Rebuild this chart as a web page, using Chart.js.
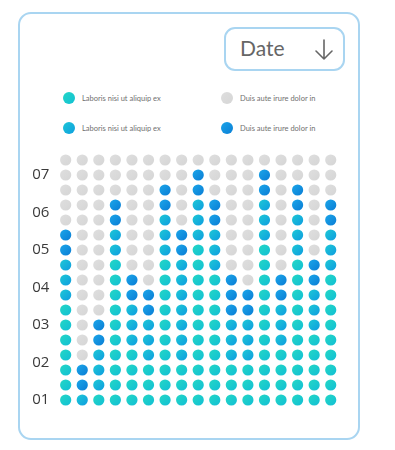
<!DOCTYPE html>
<html>
<head>
<meta charset="utf-8">
<script src="https://cdn.jsdelivr.net/npm/chart.js@4"></script>
<style>
  html, body { margin: 0; padding: 0; background: #fff; }
  body { width: 395px; height: 450px; position: relative; overflow: hidden; font-family: Lato, 'Open Sans', sans-serif; }
  .card { position: absolute; left: 18px; top: 12px; width: 338px; height: 424px; border: 2px solid #a9d5f1; border-radius: 13px; }
  .date { position: absolute; left: 224px; top: 27px; width: 117px; height: 40px; border: 2px solid #a9d5f1; border-radius: 11px; }
  .date span { position: absolute; left: 14px; top: 6px; font-family: Lato, sans-serif; font-weight: 400; font-size: 21px; color: #666; }
  .date svg { position: absolute; left: 88px; top: 9px; }
  .legend { position: absolute; font-size: 7.5px; color: #707070; font-family: Lato, sans-serif; white-space: nowrap; }
  .legend i { position: absolute; left: -19px; top: -2px; width: 12px; height: 12px; border-radius: 50%; }
  canvas { position: absolute; left: 0; top: 0; }
</style>
</head>
<body>
<div class="card"></div>
<div class="date"><span>Date</span>
  <svg width="20" height="24" viewBox="0 0 20 24"><path d="M10 2 V21 M2 13 L10 21 L18 13" fill="none" stroke="#666" stroke-width="1.6" stroke-linecap="round" stroke-linejoin="round"/></svg>
</div>
<div id="legend"></div>
<canvas id="dots" width="395" height="450"></canvas>
<script>
// one string per column, bottom row first: T teal, C cyan, B blue, G grey
const columns = [
  'TTTTTTTCCCBBGGGGG',
  'CBBGGGGGGGGGGGGGG',
  'TCCCBBGGGGGGGGGGG',
  'TTTTTTTTTTCCBBGGG',
  'TTTTCCCBBGGGGGGGG',
  'TTTCCCBBGGGGGGGGG',
  'TTTTTTTTTTCCCBBGG',
  'TTTCCCCCCCBBGGGGG',
  'TTTTTTTTTTTCCCBBG',
  'TTTTTTTTTCCCBBGGG',
  'TTTCCCBBBGGGGGGGG',
  'TTTCCCBBGGGGGGGGG',
  'TTTTTTTTTTTCCCBBG',
  'TTTTCCCBBGGGGGGGG',
  'TTTTTTTTTTCCCBBGG',
  'TTTTTCCCBBGGGGGGG',
  'TTTTTTTTTCCCBBGGG'
];
const yTickValues = [0, 2.5, 5, 7.5, 10, 12.5, 15];
const yTickLabels = ['01', '02', '03', '04', '05', '06', '07'];
const seriesNames = ['Laboris nisi ut aliquip ex', 'Duis aute irure dolor in', 'Laboris nisi ut aliquip ex', 'Duis aute irure dolor in'];
const seriesCodes = ['T', 'G', 'C', 'B'];

const palette = {
  T: ['#22d6c6', '#13c0d4'],
  G: ['#dedede', '#d6d6d6'],
  C: ['#1cc6d6', '#0f9fdf'],
  B: ['#1aa4e8', '#0b7fd6']
};

function pointsFor(code) {
  const pts = [];
  columns.forEach((col, i) => {
    col.split('').forEach((c, j) => {
      if (c === code) pts.push({x: i, y: j});
    });
  });
  return pts;
}

function dotColor(code) {
  return function(context) {
    if (context.type !== 'data' || !context.raw) return palette[code][1];
    const chart = context.chart;
    const px = chart.scales.x.getPixelForValue(context.raw.x);
    const py = chart.scales.y.getPixelForValue(context.raw.y);
    if (!isFinite(px) || !isFinite(py)) return palette[code][1];
    const g = chart.ctx.createLinearGradient(px - 5, py - 5, px + 5, py + 5);
    g.addColorStop(0, palette[code][0]);
    g.addColorStop(1, palette[code][1]);
    return g;
  };
}

// html legend, two columns
const legendPos = [[82, 94], [240, 94], [82, 124], [240, 124]];
const legendEl = document.getElementById('legend');
seriesNames.forEach((name, k) => {
  const d = document.createElement('div');
  d.className = 'legend';
  d.style.left = legendPos[k][0] + 'px';
  d.style.top = legendPos[k][1] + 'px';
  const c = palette[seriesCodes[k]];
  d.innerHTML = '<i style="background: linear-gradient(135deg,' + c[0] + ',' + c[1] + ')"></i>' + name;
  legendEl.appendChild(d);
});

const ctx = document.getElementById('dots').getContext('2d');
new Chart(ctx, {
  type: 'scatter',
  data: {
    datasets: seriesCodes.map((code, k) => ({
      label: seriesNames[k],
      data: pointsFor(code),
      pointRadius: 5.6,
      pointHoverRadius: 5.6,
      pointBorderWidth: 0,
      pointBackgroundColor: dotColor(code)
    }))
  },
  options: {
    responsive: false,
    animation: false,
    layout: { padding: { top: 152.5, bottom: 42.5, left: 0, right: 56 } },
    scales: {
      x: { type: 'linear', min: -0.5, max: 16.5, display: false },
      y: {
        type: 'linear', min: -0.5, max: 16.5,
        afterFit: (scale) => { scale.width = 57.4; },
        afterBuildTicks: (scale) => { scale.ticks = yTickValues.map(v => ({value: v})); },
        grid: { display: false, drawTicks: false },
        border: { display: false },
        ticks: {
          padding: 8,
          color: '#3a3a3a',
          font: { family: 'Open Sans', size: 15 },
          callback: (v) => yTickLabels[yTickValues.indexOf(v)]
        }
      }
    },
    plugins: { legend: { display: false }, tooltip: { enabled: false } }
  }
});
</script>
</body>
</html>
